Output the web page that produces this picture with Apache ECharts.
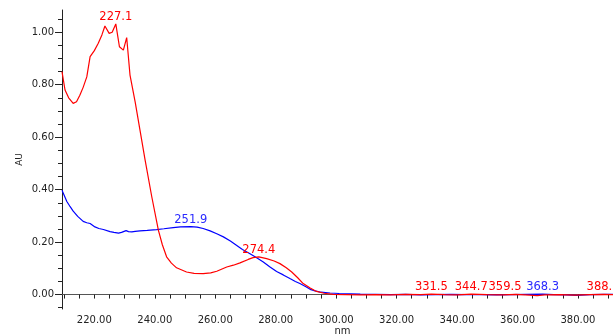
<!DOCTYPE html>
<html>
<head>
<meta charset="utf-8">
<script src="https://cdn.jsdelivr.net/npm/echarts@6/dist/echarts.min.js"></script>
<style>html,body{margin:0;padding:0;background:#fff}#c{width:613px;height:335px}</style>
</head>
<body>
<div id="c"></div>
<script>
// ---- data ----
const redNm = [209.3,210.3,211.5,213.0,214.1,215.2,216.3,217.5,218.6,220.0,221.3,222.5,223.5,224.9,225.9,227.1,228.3,229.6,230.7,231.8,233.5,235.1,236.8,239.0,241.2,242.5,243.9,245.5,247.2,250.5,253.0,256.0,258.5,260.5,263.8,266.0,268.2,270.9,272.5,274.4,277.0,279.5,281.4,283.5,285.3,287.2,289.1,291.4,293.5,296.0,299.0,303.0,308.0,313.0,318.0,323.0,328.0,331.5,336.0,340.0,344.7,350.0,355.0,359.5,364.0,366.5,369.0,374.0,379.0,384.0,388.3,392.0,395.0];
const redAU = [0.850,0.780,0.750,0.729,0.735,0.760,0.790,0.830,0.907,0.930,0.958,0.990,1.024,0.996,1.000,1.032,0.945,0.932,0.980,0.837,0.735,0.627,0.513,0.373,0.245,0.190,0.144,0.120,0.102,0.086,0.081,0.080,0.083,0.089,0.105,0.112,0.121,0.134,0.141,0.144,0.137,0.128,0.118,0.102,0.086,0.065,0.042,0.025,0.012,0.005,0.001,0.000,-0.001,0.000,-0.001,0.001,0.000,0.002,0.000,-0.001,0.002,0.000,-0.001,0.001,-0.002,-0.004,-0.001,0.000,-0.002,0.000,0.001,0.000,0.000];
const blueNm = [209.3,210.9,212.0,213.0,214.5,216.3,217.5,218.6,220.2,221.5,223.0,225.2,226.5,228.0,229.0,229.6,230.5,231.3,232.4,233.5,235.1,237.5,240.6,243.0,246.1,248.5,251.9,254.0,256.0,258.3,260.5,262.7,265.0,267.0,269.0,271.5,273.7,275.9,278.0,280.3,282.5,284.7,286.5,288.0,290.0,291.4,293.0,295.0,298.0,301.0,304.6,308.0,313.0,318.0,323.0,328.0,333.0,338.0,343.0,348.0,353.0,358.0,363.0,368.3,372.0,376.0,379.5,384.0,389.0,395.0];
const blueAU = [0.398,0.355,0.335,0.318,0.298,0.279,0.274,0.271,0.258,0.252,0.248,0.240,0.237,0.234,0.237,0.240,0.244,0.240,0.239,0.241,0.243,0.245,0.248,0.251,0.255,0.258,0.259,0.257,0.252,0.243,0.232,0.220,0.204,0.188,0.172,0.156,0.140,0.124,0.106,0.088,0.075,0.061,0.050,0.042,0.030,0.020,0.014,0.009,0.006,0.004,0.003,0.002,0.001,0.000,0.001,-0.001,0.000,0.001,0.000,0.000,-0.001,0.000,0.001,0.002,0.000,-0.001,-0.003,0.000,0.001,0.001];
const redPeakNm = [227.1,274.4,331.5,344.7,359.5,388.3];
const redPeakAU = [1.032,0.144,0.002,0.002,0.001,0.001];
const bluePeakNm = [251.9,368.3];
const bluePeakAU = [0.259,0.002];
const xLabelValues = [220,240,260,280,300,320,340,360,380];
const yLabelValues = [0,0.2,0.4,0.6,0.8,1.0];

// ---- build ----
const zip = (a,b)=>a.map((v,i)=>[v,b[i]]);
const xTicks = []; for (let v=210; v<=395; v+=5) xTicks.push(v);
const yMinor = []; for (let k=-1; k<=21; k++) yMinor.push(Math.round(k*5)/100);
const RED = '#ff0000', BLUE = '#0000ff';
const labelFont = {fontFamily:'DejaVu Sans', fontSize:11.5};
function peaks(nms, aus, color){
  return nms.map((n,i)=>({
    coord:[n,aus[i]], value:n.toFixed(1),
    label:{show:true, position:'top', distance:1, color:color, ...labelFont,
      offset: (n===359.5)?[-11,0]:[0,0], formatter:String(n.toFixed(1))}
  }));
}
const chart = echarts.init(document.getElementById('c'), null, {renderer:'canvas'});
const axisCol = '#222';
chart.setOption({
  animation:false,
  backgroundColor:'#fff',
  grid:{left:62, top:10, width:561, height:299, containLabel:false, outerBoundsMode:'none'},
  xAxis:[{
    type:'value', min:209.3, max:394.9, position:'bottom',
    name:'nm', nameLocation:'middle', nameGap:17, nameMoveOverlap:false,
    nameTextStyle:{color:axisCol, fontFamily:'DejaVu Sans', fontSize:10},
    axisLine:{show:true, lineStyle:{color:axisCol, width:1}},
    axisTick:{show:true, customValues:xTicks, length:4, lineStyle:{color:axisCol}},
    axisLabel:{show:true, customValues:xLabelValues, formatter:v=>v.toFixed(2), margin:6,
      color:axisCol, fontFamily:'DejaVu Sans', fontSize:10},
    splitLine:{show:false}
  },{
    type:'value', min:209.3, max:394.9, position:'top',
    axisLine:{show:true, lineStyle:{color:'#555', width:1}},
    axisTick:{show:false}, axisLabel:{show:false}, splitLine:{show:false}
  }],
  yAxis:[{
    type:'value', min:-0.055, max:1.085, position:'left',
    name:'AU', nameLocation:'middle', nameGap:38, nameRotate:90, nameMoveOverlap:false,
    nameTextStyle:{color:axisCol, fontFamily:'DejaVu Sans', fontSize:9},
    axisLine:{show:true, lineStyle:{color:axisCol, width:1}},
    axisTick:{show:true, customValues:yLabelValues, length:7, lineStyle:{color:axisCol}},
    axisLabel:{show:true, customValues:yLabelValues, formatter:v=>v.toFixed(2), margin:8,
      color:axisCol, fontFamily:'DejaVu Sans', fontSize:10},
    splitLine:{show:false}
  },{
    type:'value', min:-0.055, max:1.085, position:'left', offset:0,
    axisLine:{show:false},
    axisTick:{show:true, customValues:yMinor, length:4, lineStyle:{color:axisCol}},
    axisLabel:{show:false}, splitLine:{show:false}
  }],
  series:[{
    type:'line', name:'red', data:zip(redNm, redAU), showSymbol:false, symbol:'none',
    lineStyle:{color:RED, width:1.2}, xAxisIndex:0, yAxisIndex:0, z:3,
    markPoint:{symbol:'circle', symbolSize:0, silent:true, data:peaks(redPeakNm, redPeakAU, RED)}
  },{
    type:'line', name:'blue', data:zip(blueNm, blueAU), showSymbol:false, symbol:'none',
    lineStyle:{color:BLUE, width:1.2}, xAxisIndex:0, yAxisIndex:0, z:2,
    markPoint:{symbol:'circle', symbolSize:0, silent:true, data:peaks(bluePeakNm, bluePeakAU, '#2a2aff')}
  }]
});
</script>
</body>
</html>
